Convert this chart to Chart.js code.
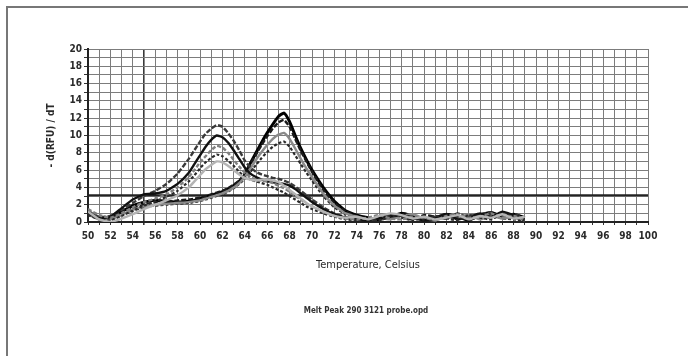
<!DOCTYPE html>
<html>
<head>
<meta charset="utf-8">
<script src="https://cdn.jsdelivr.net/npm/chart.js@4/dist/chart.umd.min.js"></script>
<style>
  html, body { margin: 0; padding: 0; background: #fff; }
  #wrap { position: relative; width: 688px; height: 356px; overflow: hidden; }
  #frame { position: absolute; left: 6px; top: 6px; width: 700px; height: 360px;
           border-top: 2px solid #777; border-left: 2px solid #777; }
  canvas { position: absolute; left: 0; top: 0; }
</style>
</head>
<body>
<div id="wrap">
  <div id="frame"></div>
  <canvas id="chart" width="688" height="356"></canvas>
</div>
<script>
// temperatures (deg C) shared by all melt curves
const temps = [50, 51, 52, 53, 54, 55, 56, 57, 58, 59,
  59.5, 60, 60.5, 61, 61.5, 62, 62.5, 63, 63.5, 64, 64.5, 65, 65.5, 66, 66.5, 67, 67.5, 68, 68.5, 69, 69.5, 70,
  71, 72, 73, 74, 75, 76, 77, 78, 79, 80, 81, 82, 83, 84, 85, 86, 87, 88, 89];

// first probe group, peak near 61.5
const peakA1 = [1.3, 0.6, 0.7, 1.4, 2.2, 3.0, 3.6, 4.4, 5.6, 7.3,
  8.3, 9.3, 10.2, 10.8, 11.2, 11.0, 10.3, 9.4, 8.3, 7.1, 6.3, 5.8, 5.5, 5.3, 5.1, 5.0, 4.8, 4.5, 4.1, 3.6, 3.1, 2.6,
  1.7, 1.0, 0.6, 0.4, 0.3, 0.5, 0.9, 0.7, 0.4, 0.3, 0.6, 0.8, 0.5, 0.4, 0.9, 1.1, 0.7, 0.9, 0.5];
const peakA2 = [1.0, 0.4, 0.6, 1.6, 2.6, 3.2, 3.3, 3.6, 4.4, 5.7,
  6.7, 7.7, 8.7, 9.5, 10.0, 9.8, 9.2, 8.3, 7.3, 6.3, 5.6, 5.2, 4.9, 4.7, 4.6, 4.5, 4.4, 4.2, 3.8, 3.3, 2.8, 2.3,
  1.5, 0.9, 0.5, 0.3, 0.2, 0.4, 0.6, 0.8, 0.5, 0.2, 0.4, 0.9, 0.3, 0.6, 1.0, 0.6, 1.2, 0.8, 0.4];
const peakA3 = [1.5, 0.8, 0.5, 1.0, 1.7, 2.3, 2.7, 3.2, 4.0, 5.2,
  6.0, 6.9, 7.6, 8.3, 8.8, 8.6, 8.0, 7.2, 6.4, 5.7, 5.2, 4.9, 4.8, 4.7, 4.5, 4.2, 3.9, 3.5, 3.0, 2.6, 2.1, 1.8,
  1.2, 0.7, 0.4, 0.3, 0.5, 0.8, 0.4, 0.3, 0.6, 0.5, 0.2, 0.7, 0.9, 0.5, 0.6, 1.0, 0.5, 0.7, 0.3];
const peakA4 = [0.8, 0.3, 0.2, 0.7, 1.3, 1.9, 2.4, 2.9, 3.6, 4.7,
  5.4, 6.2, 6.9, 7.4, 7.8, 7.6, 7.1, 6.5, 5.8, 5.2, 4.9, 4.7, 4.5, 4.3, 4.0, 3.7, 3.4, 3.0, 2.6, 2.2, 1.8, 1.5,
  1.0, 0.6, 0.3, 0.2, 0.4, 0.2, 0.6, 0.9, 0.5, 0.3, 0.7, 0.4, 0.2, 0.8, 0.5, 0.3, 1.0, 0.6, 0.2];
const peakA5 = [1.2, 0.3, 0.0, 0.4, 0.9, 1.5, 2.0, 2.5, 3.1, 4.0,
  4.7, 5.4, 6.1, 6.6, 7.0, 6.9, 6.5, 6.0, 5.5, 5.1, 4.9, 4.8, 4.9, 4.9, 4.8, 4.6, 4.2, 3.7, 3.2, 2.7, 2.2, 1.8,
  1.2, 0.7, 0.5, 0.6, 0.3, 0.7, 1.0, 0.8, 0.4, 0.6, 0.3, 0.5, 0.8, 0.3, 0.7, 0.5, 0.9, 0.4, 0.6];

// second probe group, peak near 67.5
const peakB1 = [1.0, 0.4, 0.5, 1.2, 1.9, 2.3, 2.5, 2.4, 2.3, 2.4,
  2.5, 2.7, 2.9, 3.1, 3.3, 3.5, 3.8, 4.2, 4.7, 5.5, 6.8, 8.0, 9.2, 10.3, 11.3, 12.2, 12.6, 11.6, 10.0, 8.5, 7.2, 6.0,
  4.0, 2.4, 1.3, 0.8, 0.5, 0.3, 0.6, 1.0, 0.7, 0.3, 0.5, 0.9, 0.6, 0.2, 0.8, 1.1, 0.6, 0.9, 0.5];
const peakB2 = [1.2, 0.5, 0.4, 1.0, 1.6, 2.0, 2.2, 2.3, 2.5, 2.6,
  2.7, 2.8, 3.0, 3.2, 3.4, 3.6, 3.9, 4.3, 4.8, 5.6, 6.7, 7.8, 8.9, 9.9, 10.8, 11.5, 11.8, 11.0, 9.6, 8.2, 7.0, 5.8,
  3.7, 2.2, 1.2, 0.7, 0.4, 0.6, 0.9, 0.5, 0.3, 0.8, 0.6, 0.4, 1.0, 0.5, 0.9, 0.4, 0.8, 0.5, 0.3];
const peakB3 = [0.9, 0.3, 0.3, 0.8, 1.4, 1.8, 2.0, 2.1, 2.2, 2.3,
  2.4, 2.5, 2.7, 2.9, 3.1, 3.3, 3.6, 4.0, 4.5, 5.2, 6.2, 7.2, 8.1, 8.9, 9.6, 10.1, 10.3, 9.6, 8.5, 7.3, 6.2, 5.2,
  3.3, 1.9, 1.0, 0.6, 0.3, 0.5, 0.3, 0.7, 0.9, 0.4, 0.2, 0.6, 0.4, 0.9, 0.3, 0.7, 0.4, 0.6, 0.2];
const peakB4 = [1.1, 0.6, 0.5, 0.9, 1.3, 1.7, 1.9, 2.0, 2.1, 2.2,
  2.3, 2.4, 2.6, 2.8, 3.0, 3.2, 3.5, 3.9, 4.4, 5.0, 5.8, 6.6, 7.4, 8.1, 8.7, 9.1, 9.3, 8.7, 7.7, 6.7, 5.7, 4.8,
  3.0, 1.7, 0.9, 0.5, 0.2, 0.4, 0.8, 0.5, 0.2, 0.5, 0.3, 0.9, 0.5, 0.3, 0.6, 0.8, 0.4, 0.3, 0.1];

// threshold line
const thresholdX = [50, 100];
const thresholdY = [3.1, 3.1];

const FONT = '"Liberation Sans Narrow", "DejaVu Sans Condensed", "Liberation Sans", sans-serif';

function curve(values, color, width, dash) {
  return {
    data: temps.map((t, i) => ({ x: t, y: values[i] })),
    borderColor: color,
    borderWidth: width,
    borderDash: dash || [],
    pointRadius: 0,
    tension: 0.15,
    fill: false
  };
}

const datasets = [
  curve(peakA5, '#b4b4b4', 2.4),
  curve(peakA3, '#808080', 2.4, [4, 2]),
  curve(peakA4, '#2a2a2a', 2.2, [3, 2]),
  curve(peakA2, '#111111', 2.4),
  curve(peakA1, '#3a3a3a', 2.4, [5, 2]),
  curve(peakB3, '#8a8a8a', 2.4),
  curve(peakB4, '#2a2a2a', 2.2, [3, 2]),
  curve(peakB2, '#1a1a1a', 2.4, [5, 2]),
  curve(peakB1, '#000000', 3),
  {
    data: thresholdX.map((x, i) => ({ x, y: thresholdY[i] })),
    borderColor: '#222222',
    borderWidth: 2,
    pointRadius: 0,
    fill: false
  }
];

const footnote = {
  id: 'footnote',
  afterDraw(chart) {
    const ctx = chart.ctx;
    ctx.save();
    ctx.font = 'bold 8px ' + FONT;
    ctx.fillStyle = '#333';
    ctx.textAlign = 'center';
    ctx.textBaseline = 'middle';
    ctx.fillText('Melt Peak 290 3121 probe.opd', 366, 311);
    ctx.restore();
  }
};

new Chart(document.getElementById('chart').getContext('2d'), {
  type: 'line',
  data: { datasets },
  plugins: [footnote],
  options: {
    responsive: false,
    animation: false,
    layout: { padding: { left: 0, right: 40, top: 49, bottom: 0 } },
    plugins: {
      legend: { display: false },
      tooltip: { enabled: false }
    },
    scales: {
      x: {
        type: 'linear',
        min: 50,
        max: 100,
        afterFit: (scale) => { scale.height = 134; },
        border: { display: true, color: '#222', width: 2 },
        grid: {
          color: (c) => c.tick && c.tick.value === 55 ? '#3a3a3a' : '#7c7c7c',
          lineWidth: (c) => c.tick && c.tick.value === 55 ? 1.6 : 1,
          drawTicks: true,
          tickLength: 3,
          tickColor: '#333'
        },
        ticks: {
          stepSize: 1,
          autoSkip: false,
          maxRotation: 0,
          padding: 5,
          color: '#2a2a2a',
          font: { family: FONT, size: 10, weight: 'bold' },
          callback: (v) => v % 2 === 0 ? String(v) : ''
        },
        title: {
          display: true,
          text: 'Temperature, Celsius',
          color: '#2a2a2a',
          font: { family: FONT, size: 11 },
          padding: { top: 0, bottom: 84 }
        }
      },
      y: {
        min: 0,
        max: 20,
        afterFit: (scale) => { scale.width = 88; },
        border: { display: true, color: '#222', width: 2 },
        grid: {
          color: '#7c7c7c',
          lineWidth: 1,
          drawTicks: true,
          tickLength: 4,
          tickColor: '#333'
        },
        ticks: {
          stepSize: 1,
          autoSkip: false,
          padding: 2,
          color: '#2a2a2a',
          font: { family: FONT, size: 10, weight: 'bold' },
          callback: (v) => v % 2 === 0 ? String(v) : ''
        },
        title: {
          display: true,
          text: '- d(RFU) / dT',
          color: '#2a2a2a',
          font: { family: FONT, size: 10, weight: 'bold' },
          padding: { top: 45, bottom: 0 }
        }
      }
    }
  }
});
</script>
</body>
</html>
